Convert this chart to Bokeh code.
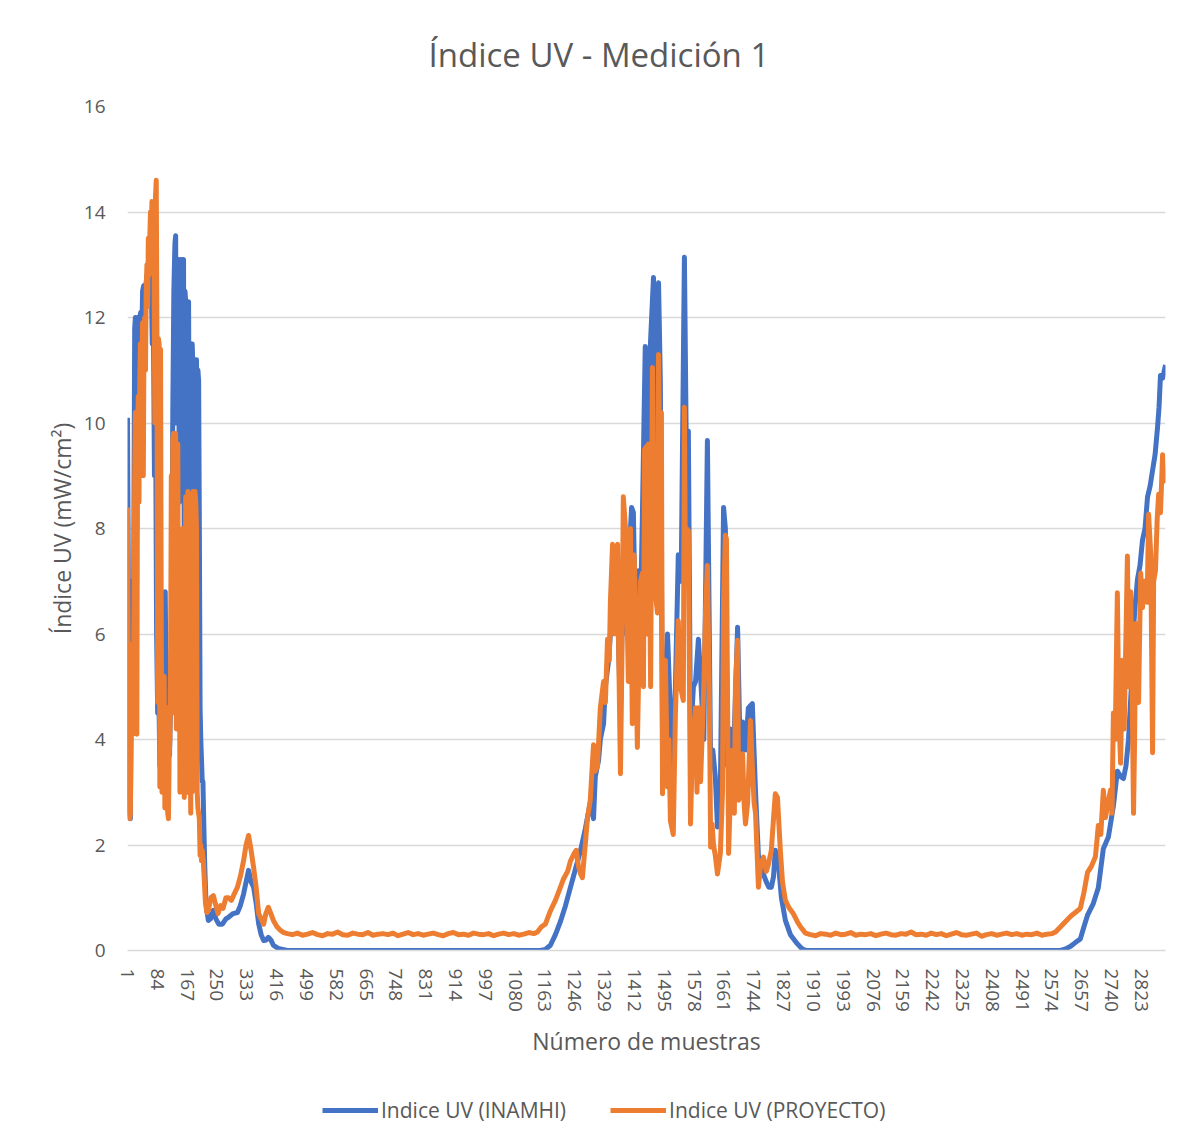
from bokeh.plotting import figure
from bokeh.models import Range1d, FixedTicker, Legend, LegendItem
from bokeh.layouts import column
from bokeh.embed import file_html
from bokeh.resources import INLINE

# ---------------- data ----------------
x_tick_labels = [1, 84, 167, 250, 333, 416, 499, 582, 665, 748, 831, 914, 997, 1080,
                 1163, 1246, 1329, 1412, 1495, 1578, 1661, 1744, 1827, 1910, 1993, 2076,
                 2159, 2242, 2325, 2408, 2491, 2574, 2657, 2740, 2823]
y_ticks = [0, 2, 4, 6, 8, 10, 12, 14, 16]

# INAMHI series, (sample, UV index)
inamhi_day1 = [(1, 10.1), (3, 7.5), (5, 4.0), (7, 2.6), (9, 2.5), (11, 4.2), (13, 7.0), (15, 6.0),
               (17, 4.5), (19, 8.5), (21, 11.8), (23, 12.0), (25, 11.0), (27, 8.0), (29, 12.0),
               (31, 11.5), (33, 9.5), (35, 12.0), (38, 12.1), (41, 11.7), (43, 12.5), (46, 12.6),
               (49, 12.3), (52, 12.6), (55, 12.8), (58, 12.4), (61, 12.9), (64, 13.0), (67, 12.7),
               (70, 11.5), (73, 12.0), (76, 9.0), (79, 10.5), (82, 6.0), (85, 4.5), (88, 5.0),
               (91, 3.5), (94, 4.0), (97, 5.0), (100, 6.7), (103, 5.3), (106, 6.8), (109, 4.5),
               (112, 3.8), (115, 5.0), (118, 3.7), (121, 4.8), (124, 6.0), (127, 10.2), (130, 12.5),
               (133, 13.4), (135, 13.55), (137, 10.0), (139, 13.1), (141, 12.0), (143, 13.1),
               (145, 8.5), (147, 12.9), (149, 13.1), (151, 9.5), (153, 13.1), (155, 12.8),
               (157, 13.1), (159, 7.0), (161, 12.5), (163, 12.3), (165, 9.0), (167, 12.3),
               (169, 11.0), (171, 12.3), (173, 8.5), (175, 11.5), (177, 11.4), (179, 7.5),
               (181, 11.5), (183, 11.1), (185, 9.5), (187, 11.2), (189, 11.0), (191, 6.0),
               (193, 11.2), (195, 10.0), (197, 11.0), (199, 10.8), (201, 8.0), (203, 4.6),
               (205, 4.0), (207, 3.6), (209, 3.2), (211, 3.2), (213, 2.5), (216, 1.6), (219, 1.0),
               (222, 0.75), (226, 0.57), (232, 0.6), (240, 0.76), (247, 0.6), (255, 0.5),
               (265, 0.5), (275, 0.6), (282, 0.63), (295, 0.7), (307, 0.72), (315, 0.85),
               (324, 1.07), (331, 1.3), (338, 1.52), (345, 1.3), (352, 1.2), (359, 0.9),
               (366, 0.51), (373, 0.3), (380, 0.19), (387, 0.2), (393, 0.25), (400, 0.2),
               (407, 0.1), (420, 0.04), (446, 0.0)]
inamhi_night1 = [(446, 0.0), (1150, 0.0)]
inamhi_day2 = [(1150, 0.0), (1164, 0.02), (1178, 0.1), (1192, 0.3), (1206, 0.55), (1220, 0.85),
               (1234, 1.2), (1248, 1.55), (1262, 1.9), (1275, 2.3), (1289, 2.8), (1298, 2.5),
               (1303, 3.3), (1312, 3.6), (1317, 4.0), (1326, 4.3), (1331, 5.0), (1340, 5.5),
               (1345, 6.0), (1353, 6.5), (1359, 7.0), (1367, 6.0), (1373, 4.5), (1381, 7.5),
               (1390, 6.0), (1398, 7.6), (1404, 8.4), (1409, 8.3), (1415, 6.0), (1423, 7.2),
               (1429, 6.5), (1434, 8.2), (1442, 11.45), (1448, 9.0), (1453, 11.0), (1465, 12.76),
               (1470, 9.0), (1479, 12.66), (1484, 10.8), (1490, 4.0), (1498, 4.7), (1504, 6.0),
               (1512, 4.5), (1517, 3.5), (1526, 5.0), (1534, 7.5), (1542, 7.0), (1551, 13.14),
               (1557, 9.0), (1562, 9.85), (1568, 4.0), (1576, 5.0), (1582, 5.1), (1590, 5.9),
               (1596, 5.2), (1605, 4.0), (1615, 9.67), (1624, 3.47), (1630, 3.8), (1637, 3.3),
               (1643, 2.34), (1651, 3.0), (1660, 8.4), (1665, 8.0), (1671, 3.5), (1679, 4.2),
               (1687, 3.5), (1699, 6.13), (1707, 3.5), (1713, 4.33), (1721, 3.8), (1729, 4.6),
               (1740, 4.68), (1749, 3.0), (1757, 1.8), (1768, 1.5), (1779, 1.3), (1786, 1.2),
               (1793, 1.2), (1799, 1.4), (1804, 1.9), (1812, 1.7), (1821, 1.0), (1832, 0.57),
               (1846, 0.3), (1865, 0.13), (1879, 0.03), (1890, 0.0)]
inamhi_night2 = [(1890, 0.0), (2598, 0.0)]
inamhi_day3 = [(2598, 0.0), (2612, 0.03), (2626, 0.08), (2639, 0.15), (2653, 0.22), (2663, 0.45),
               (2673, 0.67), (2689, 0.89), (2703, 1.19), (2717, 1.93), (2731, 2.15), (2745, 2.74),
               (2756, 3.4), (2765, 3.3), (2773, 3.26), (2780, 3.5), (2787, 4.0), (2795, 5.0),
               (2800, 6.0), (2805, 6.5), (2812, 7.04), (2819, 7.3), (2826, 7.78), (2833, 8.0),
               (2840, 8.6), (2847, 8.8), (2854, 9.1), (2861, 9.4), (2868, 9.93), (2872, 10.3),
               (2876, 10.9), (2882, 10.85), (2890, 11.1)]

# PROYECTO series, (sample, UV index)
proyecto_day1 = [(1, 8.4), (3, 5.5), (5, 3.2), (7, 2.5), (9, 2.6), (11, 4.5), (13, 5.8), (15, 4.1),
                 (17, 4.3), (19, 6.5), (21, 9.0), (23, 10.2), (25, 8.0), (27, 4.1), (29, 9.8),
                 (31, 10.5), (33, 8.5), (35, 10.8), (37, 11.5), (39, 9.0), (41, 11.2), (43, 11.9),
                 (45, 9.0), (47, 11.8), (49, 12.0), (51, 11.0), (53, 12.5), (55, 13.0), (57, 12.2),
                 (59, 13.5), (61, 12.8), (63, 13.5), (65, 14.0), (67, 13.2), (69, 14.2), (71, 13.6),
                 (73, 14.1), (75, 12.8), (77, 10.0), (79, 14.3), (81, 14.6), (83, 11.6), (85, 4.7),
                 (87, 11.6), (89, 11.5), (91, 3.1), (93, 11.4), (95, 6.0), (97, 3.0), (99, 4.8),
                 (101, 3.5), (103, 5.2), (105, 2.7), (107, 3.8), (109, 3.0), (111, 4.6), (113, 2.6),
                 (115, 2.5), (117, 3.7), (119, 4.0), (121, 5.5), (123, 9.0), (125, 4.5), (127, 9.7),
                 (129, 9.8), (131, 5.0), (133, 9.6), (135, 9.8), (137, 4.2), (139, 9.5), (141, 9.6),
                 (143, 5.5), (145, 7.5), (147, 3.0), (149, 4.0), (151, 7.0), (153, 3.4), (155, 8.0),
                 (157, 6.0), (159, 2.9), (161, 4.5), (163, 8.6), (165, 5.5), (167, 3.0), (169, 8.7),
                 (171, 8.2), (173, 3.2), (175, 4.5), (177, 2.6), (179, 6.0), (181, 3.0), (183, 8.7),
                 (185, 8.6), (187, 3.5), (189, 8.7), (191, 8.5), (193, 8.0), (195, 3.0), (197, 2.7),
                 (199, 2.6), (201, 2.5), (203, 1.8), (205, 2.0), (207, 1.7), (209, 1.9), (212, 1.7),
                 (215, 1.3), (218, 0.9), (222, 0.72), (226, 0.76), (233, 1.0), (240, 1.04),
                 (247, 0.85), (253, 0.7), (260, 0.85), (267, 0.8), (275, 1.0), (282, 1.0),
                 (290, 0.95), (300, 1.1), (307, 1.2), (315, 1.4), (324, 1.7), (331, 2.0),
                 (338, 2.18), (345, 1.9), (352, 1.57), (359, 1.2), (366, 0.7), (373, 0.6),
                 (380, 0.5), (386, 0.7), (393, 0.82), (400, 0.7), (407, 0.57), (417, 0.45),
                 (427, 0.38), (436, 0.34)]
proyecto_night1_samples = [446, 460, 474, 488, 502, 516, 530, 544, 558, 572, 586, 600, 614, 628,
                           642, 656, 670, 684, 698, 712, 726, 740, 754, 768, 782, 796, 810, 824,
                           838, 852, 866, 880, 894, 908, 922, 936, 950, 964, 978, 992, 1006, 1020,
                           1034, 1048, 1062, 1076, 1090, 1104, 1118, 1132]
proyecto_night1_values = [0.32, 0.30, 0.33, 0.29, 0.31, 0.34, 0.30, 0.28, 0.32, 0.31, 0.35, 0.30,
                          0.29, 0.33, 0.31, 0.30, 0.34, 0.29, 0.31, 0.32, 0.30, 0.33, 0.28, 0.31,
                          0.34, 0.30, 0.32, 0.29, 0.31, 0.33, 0.30, 0.28, 0.32, 0.34, 0.30, 0.31,
                          0.29, 0.33, 0.31, 0.30, 0.32, 0.28, 0.31, 0.33, 0.30, 0.32, 0.29, 0.31,
                          0.34, 0.32]
proyecto_day2 = [(1142, 0.35), (1153, 0.45), (1164, 0.5), (1178, 0.75), (1192, 0.95), (1206, 1.2),
                 (1214, 1.35), (1226, 1.5), (1234, 1.7), (1245, 1.85), (1250, 1.9), (1256, 1.6),
                 (1262, 1.45), (1267, 1.38), (1275, 2.0), (1281, 2.5), (1289, 2.85), (1298, 3.9),
                 (1303, 3.4), (1309, 3.5), (1317, 4.6), (1326, 5.1), (1331, 4.7), (1337, 5.9),
                 (1342, 5.5), (1345, 6.6), (1351, 7.7), (1356, 6.0), (1361, 7.6), (1365, 7.7),
                 (1367, 6.2), (1373, 3.35), (1377, 5.5), (1381, 8.6), (1387, 8.0), (1395, 5.1),
                 (1401, 8.0), (1406, 4.3), (1411, 7.5), (1415, 6.5), (1420, 3.85), (1423, 5.0),
                 (1429, 7.0), (1434, 7.15), (1437, 5.0), (1440, 9.5), (1445, 9.55), (1448, 6.0),
                 (1451, 9.6), (1457, 5.0), (1462, 11.05), (1466, 8.0), (1470, 6.8), (1476, 6.4),
                 (1479, 11.3), (1484, 8.0), (1487, 10.2), (1490, 2.97), (1494, 4.0), (1498, 5.5),
                 (1504, 3.1), (1508, 4.0), (1512, 2.46), (1520, 2.2), (1526, 4.5), (1534, 6.25),
                 (1540, 5.0), (1548, 4.74), (1551, 10.3), (1554, 7.0), (1557, 8.0), (1562, 7.96),
                 (1568, 2.4), (1572, 3.5), (1576, 4.0), (1582, 4.6), (1586, 3.0), (1590, 4.6),
                 (1596, 3.2), (1605, 5.0), (1610, 6.45), (1615, 7.3), (1621, 4.5), (1624, 1.96),
                 (1628, 2.4), (1632, 2.0), (1637, 1.8), (1643, 1.45), (1651, 1.84), (1657, 3.0),
                 (1660, 6.6), (1665, 7.87), (1668, 7.8), (1674, 1.84), (1679, 3.0), (1685, 3.8),
                 (1690, 2.6), (1693, 5.0), (1699, 5.88), (1702, 2.85), (1707, 3.0), (1713, 3.73),
                 (1717, 2.8), (1721, 2.4), (1727, 2.8), (1735, 4.36), (1740, 3.5), (1745, 2.8),
                 (1749, 2.6), (1757, 1.2), (1763, 1.6), (1771, 1.77), (1779, 1.5), (1785, 1.64),
                 (1793, 1.9), (1800, 2.6), (1804, 2.97), (1810, 2.9), (1818, 1.9), (1824, 1.3),
                 (1832, 0.95), (1843, 0.8), (1854, 0.7), (1865, 0.55), (1874, 0.45)]
proyecto_night2_samples = [1888, 1902, 1916, 1930, 1944, 1958, 1972, 1986, 2000, 2014, 2028, 2042,
                           2056, 2070, 2084, 2098, 2112, 2126, 2140, 2154, 2168, 2182, 2196, 2210,
                           2224, 2238, 2252, 2266, 2280, 2294, 2308, 2322, 2336, 2350, 2364, 2378,
                           2392, 2406, 2420, 2434, 2448, 2462, 2476, 2490, 2504, 2518, 2532, 2546,
                           2560, 2574]
proyecto_night2_values = [0.33, 0.30, 0.28, 0.32, 0.31, 0.29, 0.33, 0.30, 0.31, 0.34, 0.29, 0.31,
                          0.30, 0.32, 0.28, 0.31, 0.33, 0.30, 0.29, 0.32, 0.31, 0.35, 0.30, 0.31,
                          0.29, 0.33, 0.30, 0.32, 0.28, 0.31, 0.34, 0.30, 0.29, 0.31, 0.33, 0.27,
                          0.30, 0.32, 0.29, 0.31, 0.33, 0.30, 0.32, 0.29, 0.31, 0.30, 0.33, 0.29,
                          0.31, 0.32]
proyecto_day3 = [(2584, 0.35), (2598, 0.45), (2612, 0.55), (2626, 0.65), (2639, 0.72), (2653, 0.8),
                 (2663, 1.1), (2673, 1.48), (2684, 1.6), (2695, 1.78), (2703, 2.37), (2710, 2.2),
                 (2717, 3.04), (2723, 2.52), (2730, 2.8), (2737, 3.04), (2741, 2.6), (2745, 4.5),
                 (2750, 4.0), (2756, 6.78), (2760, 4.5), (2765, 3.55), (2770, 5.5), (2775, 4.2),
                 (2780, 6.0), (2784, 7.48), (2788, 5.0), (2793, 6.8), (2797, 5.0), (2801, 2.6),
                 (2804, 4.0), (2807, 6.2), (2811, 5.5), (2815, 4.7), (2818, 6.0), (2821, 7.15),
                 (2826, 6.5), (2830, 7.0), (2835, 7.0), (2839, 6.6), (2843, 8.27), (2849, 7.5),
                 (2854, 3.75), (2857, 7.0), (2862, 7.2), (2867, 8.2), (2871, 8.65), (2876, 8.3),
                 (2882, 9.4), (2886, 8.9), (2890, 9.0)]

series_names = ["Indice UV (INAMHI)", "Indice UV (PROYECTO)"]
series_colors = ["#4472C4", "#ED7D31"]

# ---------------- assemble ----------------
def join(*parts):
    xs, ys = [], []
    for part in parts:
        for s, v in part:
            if xs and s == xs[-1]:
                continue
            xs.append(s)
            ys.append(v)
    return xs, ys

ix, iy = join(inamhi_day1, inamhi_night1, inamhi_day2, inamhi_night2, inamhi_day3)
px, py = join(proyecto_day1,
              list(zip(proyecto_night1_samples, proyecto_night1_values)),
              proyecto_day2,
              list(zip(proyecto_night2_samples, proyecto_night2_values)),
              proyecto_day3)

FONT = "Open Sans"
GREY = "#595959"
LW = 5

p = figure(width=1186, height=1080, output_backend="svg", toolbar_location=None,
           x_range=Range1d(1, 2890), y_range=Range1d(0, 16),
           min_border_left=127, min_border_right=21, min_border_top=106, min_border_bottom=130)
p.outline_line_color = None
p.background_fill_color = "white"
p.border_fill_color = "white"

p.title.text = "Índice UV - Medición 1"
p.title.text_font = FONT
p.title.text_font_size = "33px"
p.title.text_font_style = "normal"
p.title.text_color = GREY
p.title.align = "left"
p.title.offset = 301
p.title.standoff = 59

p.line(ix, iy, line_color=series_colors[0], line_width=LW, line_join="round")
p.line(px, py, line_color=series_colors[1], line_width=LW, line_join="round")

# axes
p.xaxis.ticker = FixedTicker(ticks=x_tick_labels)
p.xaxis.major_label_orientation = "vertical"
p.xaxis.axis_line_color = "#d9d9d9"
p.xaxis.axis_line_width = 1.5
p.xaxis.major_tick_line_color = None
p.xaxis.minor_tick_line_color = None
p.xaxis.major_label_text_font = FONT
p.xaxis.major_label_text_font_size = "19px"
p.xaxis.major_label_text_color = GREY
p.xaxis.major_label_standoff = 12
p.xaxis.axis_label = "Número de muestras"
p.xaxis.axis_label_text_font = FONT
p.xaxis.axis_label_text_font_size = "23px"
p.xaxis.axis_label_text_font_style = "normal"
p.xaxis.axis_label_text_color = GREY
p.xaxis.axis_label_standoff = 10

p.yaxis.ticker = FixedTicker(ticks=y_ticks)
p.yaxis.axis_line_color = None
p.yaxis.major_tick_line_color = None
p.yaxis.minor_tick_line_color = None
p.yaxis.major_label_text_font = FONT
p.yaxis.major_label_text_font_size = "19px"
p.yaxis.major_label_text_color = GREY
p.yaxis.major_label_standoff = 16
p.yaxis.axis_label = "Índice UV (mW/cm²)"
p.yaxis.axis_label_text_font = FONT
p.yaxis.axis_label_text_font_size = "23px"
p.yaxis.axis_label_text_font_style = "normal"
p.yaxis.axis_label_text_color = GREY
p.yaxis.axis_label_standoff = 3

p.xgrid.grid_line_color = None
p.ygrid.grid_line_color = "#d9d9d9"
p.ygrid.grid_line_width = 1.5
p.ygrid.ticker = FixedTicker(ticks=y_ticks)

# legend strip underneath the chart (its frame lines up with the chart frame)
pl = figure(width=1186, height=63, output_backend="svg", toolbar_location=None,
            x_axis_type=None, y_axis_type=None, x_range=Range1d(0, 1), y_range=Range1d(0, 1),
            min_border=0)
pl.outline_line_color = None
pl.grid.visible = False
pl.border_fill_color = "white"
k1 = pl.line([float("nan")], [float("nan")], line_color=series_colors[0], line_width=LW)
k2 = pl.line([float("nan")], [float("nan")], line_color=series_colors[1], line_width=LW)
legend = Legend(items=[LegendItem(label=series_names[0], renderers=[k1]),
                       LegendItem(label=series_names[1], renderers=[k2])],
                orientation="horizontal", location=(195, 19))
legend.label_text_font = FONT
legend.label_text_font_size = "21px"
legend.label_text_color = GREY
legend.glyph_width = 56
legend.glyph_height = 22
legend.label_standoff = 3
legend.spacing = 44
legend.border_line_color = None
legend.background_fill_alpha = 0
legend.padding = 0
legend.margin = 0
pl.add_layout(legend)

open("out.html", "w").write(file_html(column(p, pl, spacing=0), INLINE))
